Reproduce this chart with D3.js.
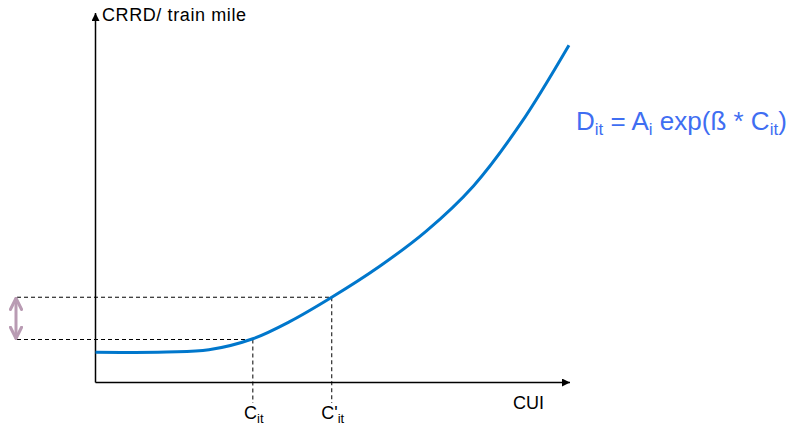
<!DOCTYPE html>
<html>
<head>
<meta charset="utf-8">
<script src="https://cdn.jsdelivr.net/npm/d3@7"></script>
<style>
  html, body { margin: 0; padding: 0; background: #fff; }
  svg { display: block; font-family: "Liberation Sans", Arial, sans-serif; }
</style>
</head>
<body>
<svg id="chart" width="793" height="433"></svg>
<script>
// ---- data ----
const curveX = [0, 15, 24, 33.3, 41, 50, 60, 70, 80, 90, 100.2];
const curveY = [8.2, 8.3, 8.9, 11.9, 16.5, 23.2, 31.5, 41.2, 53.5, 70.5, 91.8];
const cutX = [33.3, 50];          // C_it, C'_it
const levelY = [11.7, 23.2];      // D at C_it, D at C'_it
const cutLabels = [["C", "it"], ["C'", "it"]];
const yAxisTitle = "CRRD/ train mile";
const xAxisTitle = "CUI";
const formulaParts = [["D", 0], ["it", 1], [" = A", 0], ["i", 1], [" exp(ß * C", 0], ["it", 1], [")", 0]];

const svg = d3.select("#chart");
const x = d3.scaleLinear().domain([0, 100]).range([95.5, 568]);
const y = d3.scaleLinear().domain([0, 100]).range([382.5, 15]);

// defs: arrowheads
const defs = svg.append("defs");
defs.append("marker").attr("id", "blk").attr("viewBox", "0 0 10 10")
  .attr("refX", 10).attr("refY", 5).attr("markerWidth", 10).attr("markerHeight", 8)
  .attr("markerUnits", "userSpaceOnUse").attr("orient", "auto")
  .append("path").attr("d", "M0,0L10,5L0,10Z").attr("fill", "#000");
defs.append("marker").attr("id", "pur").attr("viewBox", "0 0 10 10")
  .attr("refX", 9).attr("refY", 5).attr("markerWidth", 14).attr("markerHeight", 14)
  .attr("markerUnits", "userSpaceOnUse").attr("orient", "auto-start-reverse")
  .append("path").attr("d", "M1,1L9,5L1,9").attr("fill", "none")
  .attr("stroke", "#b99bb3").attr("stroke-width", 2.2).attr("stroke-linecap", "round");

// dashed guide lines
const dash = "4,3";
levelY.forEach((lv, i) => {
  svg.append("line").attr("x1", 17).attr("x2", x(cutX[i]))
    .attr("y1", y(lv)).attr("y2", y(lv))
    .attr("stroke", "#000").attr("stroke-width", 1).attr("stroke-dasharray", dash);
  svg.append("line").attr("x1", x(cutX[i])).attr("x2", x(cutX[i]))
    .attr("y1", y(lv)).attr("y2", 403)
    .attr("stroke", "#000").attr("stroke-width", 1).attr("stroke-dasharray", dash);
});

// axes
svg.append("line").attr("x1", x(0)).attr("x2", x(0)).attr("y1", y(0)).attr("y2", 13)
  .attr("stroke", "#000").attr("stroke-width", 1.5).attr("marker-end", "url(#blk)");
svg.append("line").attr("x1", x(0)).attr("x2", 570).attr("y1", y(0)).attr("y2", y(0))
  .attr("stroke", "#000").attr("stroke-width", 1.5).attr("marker-end", "url(#blk)");

// curve
const pts = curveX.map((d, i) => [d, curveY[i]]);
svg.append("path").datum(pts)
  .attr("d", d3.line().x(d => x(d[0])).y(d => y(d[1])).curve(d3.curveCatmullRom.alpha(0.5)))
  .attr("fill", "none").attr("stroke", "#0077cc").attr("stroke-width", 3);

// double arrow
svg.append("line").attr("x1", 16).attr("x2", 16)
  .attr("y1", y(levelY[1]) + 1).attr("y2", y(levelY[0]) - 1)
  .attr("stroke", "#b99bb3").attr("stroke-width", 3)
  .attr("marker-start", "url(#pur)").attr("marker-end", "url(#pur)");

// axis titles
svg.append("text").attr("x", 102).attr("y", 21).attr("font-size", 18).attr("fill", "#000")
  .attr("textLength", 144).text(yAxisTitle);
svg.append("text").attr("x", 513).attr("y", 409).attr("font-size", 18).attr("fill", "#000")
  .text(xAxisTitle);

// cut labels
cutLabels.forEach((lab, i) => {
  const t = svg.append("text").attr("x", x(cutX[i]) + 1).attr("y", 419)
    .attr("text-anchor", "middle").attr("font-size", 18).attr("fill", "#000");
  t.append("tspan").text(lab[0]);
  t.append("tspan").attr("font-size", 13).attr("dy", 4).text(lab[1]);
});

// formula
const f = svg.append("text").attr("x", 576).attr("y", 130).attr("font-size", 26).attr("fill", "#3f6ef2");
let cur = 0;
formulaParts.forEach(([s, sub]) => {
  const dy = sub ? 5 - cur : -cur;
  cur = sub ? 5 : 0;
  f.append("tspan").attr("dy", dy).attr("font-size", sub ? 17 : 26).text(s);
});
</script>
</body>
</html>
